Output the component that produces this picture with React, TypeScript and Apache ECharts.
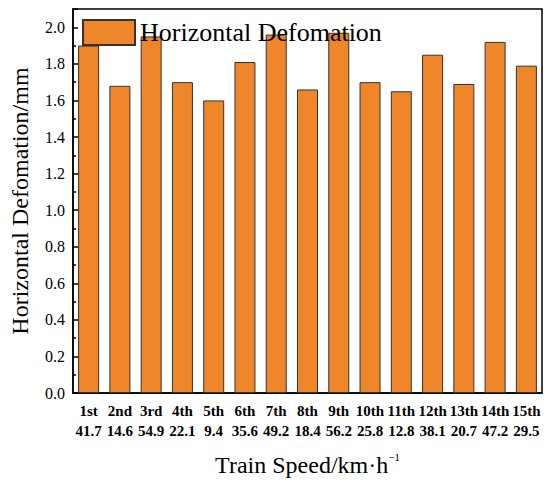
import React, { useEffect, useRef } from "react";
import * as echarts from "echarts";

const ordinals = ["1st", "2nd", "3rd", "4th", "5th", "6th", "7th", "8th", "9th", "10th", "11th", "12th", "13th", "14th", "15th"];
const speeds = ["41.7", "14.6", "54.9", "22.1", "9.4", "35.6", "49.2", "18.4", "56.2", "25.8", "12.8", "38.1", "20.7", "47.2", "29.5"];
const deformation = [1.90, 1.68, 1.95, 1.70, 1.60, 1.81, 1.96, 1.66, 1.97, 1.70, 1.65, 1.85, 1.69, 1.92, 1.79];

const FONT = "'Liberation Serif', 'Times New Roman', serif";

export default function App() {
  const ref = useRef<HTMLDivElement>(null);
  useEffect(() => {
    if (!ref.current) return;
    const chart = echarts.init(ref.current, undefined, { renderer: "svg" });
    chart.setOption({
      animation: false,
      backgroundColor: "#fff",
      textStyle: { fontFamily: FONT },
      grid: {
        left: 68,
        right: 8,
        top: 9,
        bottom: 94,
        show: true,
        borderColor: "#000",
        borderWidth: 1.5,
      },
      legend: {
        left: 77,
        top: 14,
        icon: "rect",
        itemWidth: 52,
        itemHeight: 25,
        itemGap: 5,
        textStyle: { fontFamily: FONT, fontSize: 26, color: "#000" },
        data: ["Horizontal Defomation"],
      },
      xAxis: [
        {
          type: "category",
          data: ordinals,
          position: "bottom",
          axisLine: { lineStyle: { color: "#000", width: 1.5 } },
          axisTick: { inside: true, alignWithLabel: true, length: 6, lineStyle: { color: "#000", width: 1.5 } },
          axisLabel: {
            interval: 0,
            margin: 8,
            color: "#000",
            fontFamily: FONT,
            fontSize: 15,
            fontWeight: "bold",
            lineHeight: 20,
            formatter: (v: string, i: number) => `${v}\n${speeds[i]}`,
          },
          name: "Train Speed/km·h{sup|−1}",
          nameLocation: "middle",
          nameGap: 58,
          nameTextStyle: {
            fontFamily: FONT,
            fontSize: 24,
            color: "#000",
            rich: {
              sup: { fontFamily: FONT, fontSize: 11, color: "#000", padding: [0, 0, 16, 0] },
            },
          },
        },
        {
          type: "category",
          data: ordinals,
          position: "bottom",
          axisLine: { show: false },
          axisTick: { inside: true, alignWithLabel: false, length: 3, lineStyle: { color: "#000", width: 1.5 } },
          axisLabel: { show: false },
        },
      ],
      yAxis: {
        type: "value",
        min: 0,
        max: 2.1,
        interval: 0.2,
        axisLine: { show: true, lineStyle: { color: "#000", width: 1.5 } },
        axisTick: { show: true, inside: true, length: 5, lineStyle: { color: "#000", width: 1.5 } },
        minorTick: { show: true, splitNumber: 2, length: 3, lineStyle: { color: "#000", width: 1.5 } },
        splitLine: { show: false },
        axisLabel: {
          showMaxLabel: false,
          margin: 8,
          color: "#000",
          fontFamily: FONT,
          fontSize: 16,
          formatter: (v: number) => v.toFixed(1),
        },
        name: "Horizontal Defomation/mm",
        nameLocation: "middle",
        nameGap: 41,
        nameTextStyle: { fontFamily: FONT, fontSize: 24, color: "#000" },
      },
      series: [
        {
          name: "Horizontal Defomation",
          type: "bar",
          data: deformation,
          barWidth: 21,
          itemStyle: { color: "#F0862A", borderColor: "#333", borderWidth: 1 },
        },
      ],
    });
    return () => chart.dispose();
  }, []);
  return <div ref={ref} style={{ position: "fixed", left: 0, top: 0, width: 550, height: 487 }} />;
}
